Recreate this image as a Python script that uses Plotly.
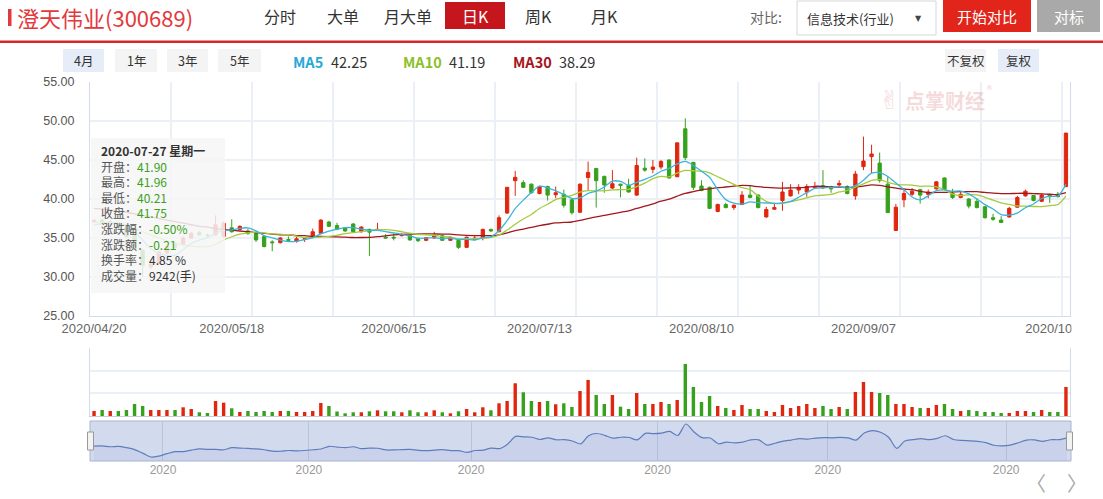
import pandas as pd
import plotly.graph_objects as go

W, H = 1103, 499

# ---------------- data ----------------
holidays = ["2020-05-01", "2020-05-04", "2020-05-05", "2020-06-25", "2020-06-26",
            "2020-10-01", "2020-10-02", "2020-10-05", "2020-10-06", "2020-10-07", "2020-10-08"]
dates = pd.bdate_range("2020-04-20", "2020-10-20", freq="C", holidays=holidays)

opens = [37.1, 37.3, 36.8, 37.0, 36.3, 35.3, 33.4, 31.3, 31.8, 33.1,
         34.2, 34.2, 35.0, 35.7, 35.4, 35.4, 35.2, 36.3, 36.1, 35.9,
         35.7, 35.2, 34.5, 34.4, 34.8, 34.6, 34.8, 35.2, 35.6, 37.05,
         36.6, 36.3, 36.8, 35.8, 36.1, 36.0, 35.1, 35.1, 35.3, 35.35,
         34.9, 34.7, 35.0, 35.3, 34.7, 34.7, 33.8, 34.8, 35.0, 36.1,
         35.8, 38.2, 42.35, 42.1, 41.9, 40.7, 41.6, 40.55, 40.6, 39.9,
         38.3, 42.75, 43.9, 42.9, 41.4, 41.90, 41.75, 40.5, 43.95, 43.8,
         44.1, 45.0, 42.85, 49.0, 44.7, 41.66, 41.5, 38.4, 39.3, 38.9,
         39.3, 40.5, 40.5, 37.7, 38.7, 39.8, 40.4, 41.15, 40.9, 41.45,
         41.7, 41.6, 41.8, 41.6, 40.4, 44.15, 45.43, 44.6, 41.9, 35.96,
         39.9, 40.6, 41.2, 40.6, 41.3, 42.7, 40.7, 40.2, 40.0, 39.7,
         39.0, 37.6, 37.3, 37.7, 38.95, 40.4, 40.45, 39.7, 40.55, 40.6,
         41.6]
highs = [37.4, 37.5, 37.3, 37.1, 36.5, 35.5, 33.6, 31.8, 33.4, 34.1,
         34.5, 35.2, 35.8, 35.9, 35.6, 37.9, 37.1, 37.4, 36.6, 36.2,
         35.8, 35.2, 34.7, 35.1, 35.2, 35.2, 35.1, 36.2, 37.4, 37.2,
         36.95, 36.4, 36.9, 36.5, 36.2, 36.95, 35.5, 35.6, 35.6, 35.4,
         34.95, 35.1, 35.8, 35.4, 35.15, 34.75, 35.2, 35.35, 36.2, 36.2,
         37.9, 41.5, 43.6, 42.4, 42.0, 41.7, 41.7, 41.6, 41.2, 40.0,
         42.0, 44.8, 44.0, 43.0, 43.7, 41.96, 42.6, 45.3, 45.2, 45.0,
         45.0, 45.1, 47.2, 50.35, 44.7, 42.4, 41.6, 39.4, 39.5, 39.3,
         41.0, 41.8, 40.6, 39.0, 39.5, 42.2, 41.9, 41.9, 41.9, 42.2,
         43.7, 41.7, 42.4, 41.75, 43.6, 48.0, 46.96, 45.95, 42.86, 39.37,
         41.4, 41.4, 41.3, 41.2, 42.3, 42.75, 41.3, 40.9, 40.1, 40.1,
         39.1, 38.1, 37.8, 39.0, 40.4, 41.2, 40.5, 40.7, 40.6, 40.9,
         48.45]
lows = [36.95, 36.7, 36.6, 36.1, 35.0, 33.4, 30.0, 31.0, 31.6, 32.9,
        33.5, 34.0, 34.9, 35.3, 35.1, 35.3, 35.0, 35.7, 36.0, 35.4,
        34.5, 33.8, 33.3, 34.3, 34.5, 34.4, 34.5, 35.1, 35.6, 36.4,
        36.0, 35.8, 35.7, 35.7, 32.7, 35.9, 35.0, 34.7, 35.2, 34.65,
        34.5, 34.6, 34.9, 34.65, 34.65, 33.6, 33.75, 34.7, 34.7, 35.75,
        35.75, 38.1, 40.4, 41.4, 40.7, 40.6, 39.8, 40.1, 38.9, 38.0,
        38.2, 41.15, 38.9, 40.8, 41.3, 40.21, 40.8, 40.4, 43.5, 43.3,
        43.8, 42.6, 42.8, 45.0, 41.15, 41.0, 38.7, 38.3, 38.8, 38.6,
        39.2, 40.1, 38.8, 37.6, 38.6, 38.5, 40.3, 40.6, 40.3, 41.4,
        41.3, 40.8, 41.5, 40.6, 39.9, 43.7, 43.3, 42.1, 38.2, 35.9,
        38.95, 40.4, 39.4, 40.1, 41.2, 41.1, 40.0, 40.1, 38.8, 38.8,
        37.5, 37.2, 36.9, 37.6, 38.9, 40.3, 39.7, 39.6, 39.5, 40.2,
        41.5]
closes = [37.25, 36.9, 37.1, 36.3, 35.2, 33.6, 31.5, 31.6, 33.2, 33.9,
          33.8, 35.0, 35.6, 35.4, 35.3, 36.7, 36.9, 35.8, 36.5, 35.6,
          34.75, 33.9, 34.4, 35.0, 34.7, 34.9, 34.9, 35.8, 37.3, 36.5,
          36.1, 35.9, 35.8, 36.4, 35.75, 36.1, 35.0, 35.0, 35.45, 34.75,
          34.65, 35.05, 35.4, 34.7, 35.11, 33.8, 35.1, 35.0, 36.1, 35.9,
          37.6, 41.5, 42.78, 41.5, 40.8, 41.6, 40.5, 40.8, 39.2, 38.25,
          41.9, 43.41, 42.35, 41.8, 41.96, 41.75, 40.9, 44.3, 43.7, 44.1,
          44.8, 42.7, 47.2, 45.3, 41.5, 41.1, 38.8, 39.3, 38.9, 39.2,
          40.5, 40.2, 38.9, 38.65, 38.9, 40.9, 41.15, 41.5, 41.6, 41.6,
          41.4, 41.3, 42.0, 40.7, 43.2, 44.87, 45.77, 42.36, 38.26, 38.95,
          40.7, 41.0, 40.5, 40.9, 42.2, 41.2, 40.2, 40.6, 39.1, 38.9,
          37.6, 37.4, 37.0, 38.8, 40.2, 41.0, 39.8, 40.5, 40.3, 40.3,
          48.45]
volume = [4970, 5960, 4970, 4970, 5960, 11930, 9940, 5960, 5960, 5960,
          5960, 8650, 6960, 3680, 2980, 14910, 13220, 7650, 3980, 4970,
          3980, 4970, 3980, 4970, 4970, 3980, 3980, 4970, 12920, 9940,
          4470, 2680, 3680, 3680, 4670, 5670, 4670, 4670, 3680, 5670,
          3680, 3680, 5670, 3680, 2680, 4670, 6960, 3680, 8650, 5670,
          12620, 14910, 32500, 23560, 14910, 13920, 14910, 11630, 12620, 8950,
          24850, 35780, 20870, 11930, 20870, 9242, 6960, 22860, 11930, 11930,
          13920, 11930, 15900, 51690, 28830, 13920, 19880, 9940, 7950, 5960,
          10930, 6960, 6960, 4970, 3980, 10930, 7950, 9940, 11930, 7950,
          9940, 6960, 8950, 6960, 23860, 33800, 23860, 22860, 20870, 11930,
          11930, 8950, 7950, 7950, 10930, 11930, 6960, 4970, 5960, 4970,
          3980, 3980, 2980, 2980, 4970, 4970, 3980, 5960, 3980, 3980,
          28830]
# moving-average values before enough history exists
ma5_head = [36.7, 36.8, 36.9, 36.8]
ma10_head = [37.0, 37.0, 37.0, 36.9, 36.7, 36.3, 35.8, 35.4, 35.0]
ma30_head = [38.8, 38.7, 38.6, 38.4, 38.3, 38.1, 37.9, 37.7, 37.5, 37.3,
             37.1, 36.9, 36.7, 36.5, 36.4, 36.2, 36.1, 36.0, 35.9, 35.8,
             35.7, 35.6, 35.5, 35.4, 35.4, 35.3, 35.3, 35.2, 35.2]
tick_dates = ["2020-04-20", "2020-05-18", "2020-06-15", "2020-07-13",
              "2020-08-10", "2020-09-07", "2020-10-19"]
slider_month_starts = ["2020-05", "2020-06", "2020-07", "2020-08", "2020-09", "2020-10"]
hover_date = "2020-07-27"
turnover_hover = 4.85
stock_name = "澄天伟业(300689)"

# ---------------- derived ----------------
idx = list(range(len(dates)))
cs = pd.Series(closes)
ma5 = cs.rolling(5).mean().tolist()
ma10 = cs.rolling(10).mean().tolist()
ma30 = cs.rolling(30).mean().tolist()
ma5[:len(ma5_head)] = ma5_head
ma10[:len(ma10_head)] = ma10_head
ma30[:len(ma30_head)] = ma30_head

date_pos = {d.strftime("%Y-%m-%d"): i for i, d in enumerate(dates)}
tick_idx = [date_pos[d] for d in tick_dates]
tick_txt = [d.replace("-", "/") for d in tick_dates]
slider_idx = []
for m in slider_month_starts:
    first = min(i for i, d in enumerate(dates) if d.strftime("%Y-%m") == m)
    slider_idx.append(first - 0.5)
slider_txt = [m[:4] for m in slider_month_starts]

RED = "#e0260e"
GREEN = "#36a11c"
vol_colors = [RED if c >= o else GREEN for o, c in zip(opens, closes)]

GRID = "#ebeff6"
AXL = "#d3dced"
CJK = "Noto Sans CJK SC"
NUM = "Liberation Sans, Arial"


def px(x):
    return x / W


def py(y):
    return 1 - y / H


fig = go.Figure()

fig.add_trace(go.Bar(x=idx, y=volume, marker=dict(color=vol_colors, line=dict(width=0)),
                     xaxis="x2", yaxis="y2", hoverinfo="skip"))
fig.add_trace(go.Candlestick(
    x=idx, open=opens, high=highs, low=lows, close=closes,
    increasing=dict(line=dict(color=RED, width=1), fillcolor=RED),
    decreasing=dict(line=dict(color=GREEN, width=1), fillcolor=GREEN),
    whiskerwidth=0, hoverinfo="skip", xaxis="x", yaxis="y"))
for ma, col in [(ma30, "#a3171c"), (ma10, "#a5cb3c"), (ma5, "#3cb3dc")]:
    fig.add_trace(go.Scatter(x=idx, y=ma, mode="lines",
                             line=dict(color=col, width=1.3, shape="spline", smoothing=0.8),
                             hoverinfo="skip", xaxis="x", yaxis="y"))
fig.add_trace(go.Scatter(x=idx, y=opens, mode="lines",
                         line=dict(color="#5f7dbd", width=1.2, shape="spline", smoothing=0.8),
                         fill="tozeroy", fillcolor="rgba(90,115,180,0.07)",
                         hoverinfo="skip", xaxis="x3", yaxis="y3"))

lo, hi = min(opens), max(opens)
R = hi - lo

shapes = []


def rect(x0, y0, x1, y1, fill, line=None, layer="below", lw=1):
    shapes.append(dict(type="rect", xref="paper", yref="paper",
                       x0=px(x0), x1=px(x1), y0=py(y1), y1=py(y0),
                       fillcolor=fill, layer=layer,
                       line=dict(width=0) if line is None else dict(color=line, width=lw)))


annots = []


def text(x, y, s, size, color, anchor="center", family=CJK):
    annots.append(dict(xref="paper", yref="paper", x=px(x), y=py(y), text=s,
                       showarrow=False, xanchor=anchor, yanchor="middle", align="left",
                       font=dict(family=family, size=size, color=color)))


# header
rect(8, 9, 11.5, 26, "#e4393c")
text(15, 17, stock_name, 22, "#e4393c", "left")
rect(445, 2, 505, 29, "#c4161c")
for s, cx, col in [("分时", 280, "#333"), ("大单", 343, "#333"), ("月大单", 408, "#333"),
                   ("日K", 475, "#ffffff"), ("周K", 538, "#333"), ("月K", 604, "#333")]:
    text(cx, 16, s, 16, col)
text(766, 17, "对比:", 14, "#666")
rect(797, 1, 936, 35, "#ffffff", "#d6d6d6")
text(850, 18, "信息技术(行业)", 13, "#333")
text(918, 18, "▼", 8, "#444", family="DejaVu Sans")
rect(943, 0, 1031, 32, "#e1251b")
text(987, 16, "开始对比", 15, "#ffffff")
rect(1037, 0, 1100, 32, "#a9a9a9")
text(1068.5, 16, "对标", 15, "#ffffff")
rect(0, 40.5, W, 43, "#d7262b")

# period buttons
for s, x0, x1, sel in [("4月", 63, 104, True), ("1年", 115, 157, False),
                       ("3年", 167, 208, False), ("5年", 218, 261, False),
                       ("不复权", 945, 986, False), ("复权", 998, 1039, True)]:
    rect(x0, 49, x1, 72, "#e6edf8" if sel else "#f4f4f4")
    text((x0 + x1) / 2, 60.5, s, 12.5, "#333")

h = date_pos[hover_date]
for lab, col, val, xl, xv in [("MA5", "#27a8d8", ma5[h], 291, 329),
                              ("MA10", "#8dbf2a", ma10[h], 401, 447),
                              ("MA30", "#a8141b", ma30[h], 511, 557)]:
    text(xl, 61, "<b>%s</b>" % lab, 14.5, col, "left")
    text(xv, 61, "%.2f" % val, 14.5, "#333", "left")

# watermark
text(890, 100, "✌", 26, "rgba(228,150,155,0.35)", family="DejaVu Sans")
text(945, 101, "<b>点掌财经</b>", 20, "rgba(228,150,155,0.35)")
text(989, 88, "®", 7, "rgba(228,150,155,0.45)", family="DejaVu Sans")

# tooltip
rect(91, 138, 225, 293, "rgba(246,246,246,0.86)", layer="above")
weekdays = ["星期一", "星期二", "星期三", "星期四", "星期五", "星期六", "星期日"]
d = dates[h]
chg = closes[h] - closes[h - 1]
pct = chg / closes[h - 1] * 100
TG = "#3ba120"
rows = [("开盘：", "%.2f" % opens[h], TG), ("最高：", "%.2f" % highs[h], TG),
        ("最低：", "%.2f" % lows[h], TG), ("收盘：", "%.2f" % closes[h], TG),
        ("涨跌幅：", "%.2f%%" % pct, TG), ("涨跌额：", "%.2f" % chg, TG),
        ("换手率：", "%.2f %%" % turnover_hover, "#333"),
        ("成交量：", "%d(手)" % volume[h], "#333")]
lines = ["<b><span style='color:#333'>%s %s</span></b>" % (d.strftime("%Y-%m-%d"), weekdays[d.weekday()])]
for lab, val, col in rows:
    lines.append("<span style='color:#555'>%s</span><span style='color:%s'>%s</span>" % (lab, col, val))
text(99, 213, "<br>".join(lines), 12, "#555", "left")

# slider decorations
rect(90, 421, 1071, 461, "#d2daee", "#aab5cc")
rect(87.5, 432, 93.5, 450, "#f2f2f2", "#999", layer="above")
rect(1066.5, 432, 1072.5, 450, "#f2f2f2", "#999", layer="above")
text(1036, 482, "〈", 20, "#aaa")
text(1077, 482, "〉", 20, "#aaa")
# container edge clips last date label
rect(1071.5, 317, W, 340, "#ffffff", layer="above")

tickfont = dict(family=NUM, size=13, color="#666")
fig.update_layout(
    width=W, height=H, margin=dict(l=0, r=0, t=0, b=0, pad=0, autoexpand=False),
    paper_bgcolor="#ffffff", plot_bgcolor="rgba(0,0,0,0)",
    showlegend=False, hovermode=False, bargap=0.58, boxgap=0.42,
    xaxis=dict(domain=[px(90), px(1070)], range=[-0.5, len(idx) - 0.5], anchor="y",
               tickmode="array", tickvals=tick_idx, ticktext=tick_txt, ticks="",
               showgrid=False, zeroline=False, showline=True, linecolor=AXL,
               tickfont=tickfont, rangeslider=dict(visible=False), fixedrange=True,
               automargin=False,
               minor=dict(tickmode="linear", tick0=-0.5, dtick=10, showgrid=True,
                          gridcolor=GRID, gridwidth=1.6, ticks="")),
    yaxis=dict(domain=[py(316), py(82)], range=[25, 55], anchor="x",
               tickmode="linear", tick0=25, dtick=5, tickformat=".2f", ticks="",
               showgrid=True, gridcolor=GRID, gridwidth=1.6, zeroline=False,
               showline=True, linecolor=AXL, mirror=True, ticklabelstandoff=12,
               automargin=False,
               tickfont=dict(family=NUM, size=12.5, color="#555")),
    xaxis2=dict(domain=[px(90), px(1070)], range=[-0.5, len(idx) - 0.5], anchor="y2",
                showticklabels=False, ticks="", showgrid=False, zeroline=False,
                showline=True, linecolor="#c3cde0", automargin=False),
    yaxis2=dict(domain=[py(416), py(348)], range=[0, 67500], anchor="x2",
                tickvals=[22500, 45000, 67500], showticklabels=False, ticks="",
                showgrid=True, gridcolor=GRID, gridwidth=1.6, zeroline=False,
                showline=True, linecolor=AXL, mirror=True, automargin=False),
    xaxis3=dict(domain=[px(90), px(1071)], range=[-0.5, len(idx) - 0.5], anchor="y3",
                tickmode="array", tickvals=slider_idx, ticktext=slider_txt, ticks="",
                showgrid=True, gridcolor="#b9c4dc", gridwidth=1, zeroline=False,
                showline=False, automargin=False,
                tickfont=dict(family=NUM, size=12, color="#999")),
    yaxis3=dict(domain=[py(461), py(421)], range=[lo - 0.12 * R, hi + 0.09 * R],
                anchor="x3", visible=False, automargin=False),
    shapes=shapes, annotations=annots,
)

fig.write_html("out.html", config={"displayModeBar": False},
               post_script="document.body.style.margin='0';")
